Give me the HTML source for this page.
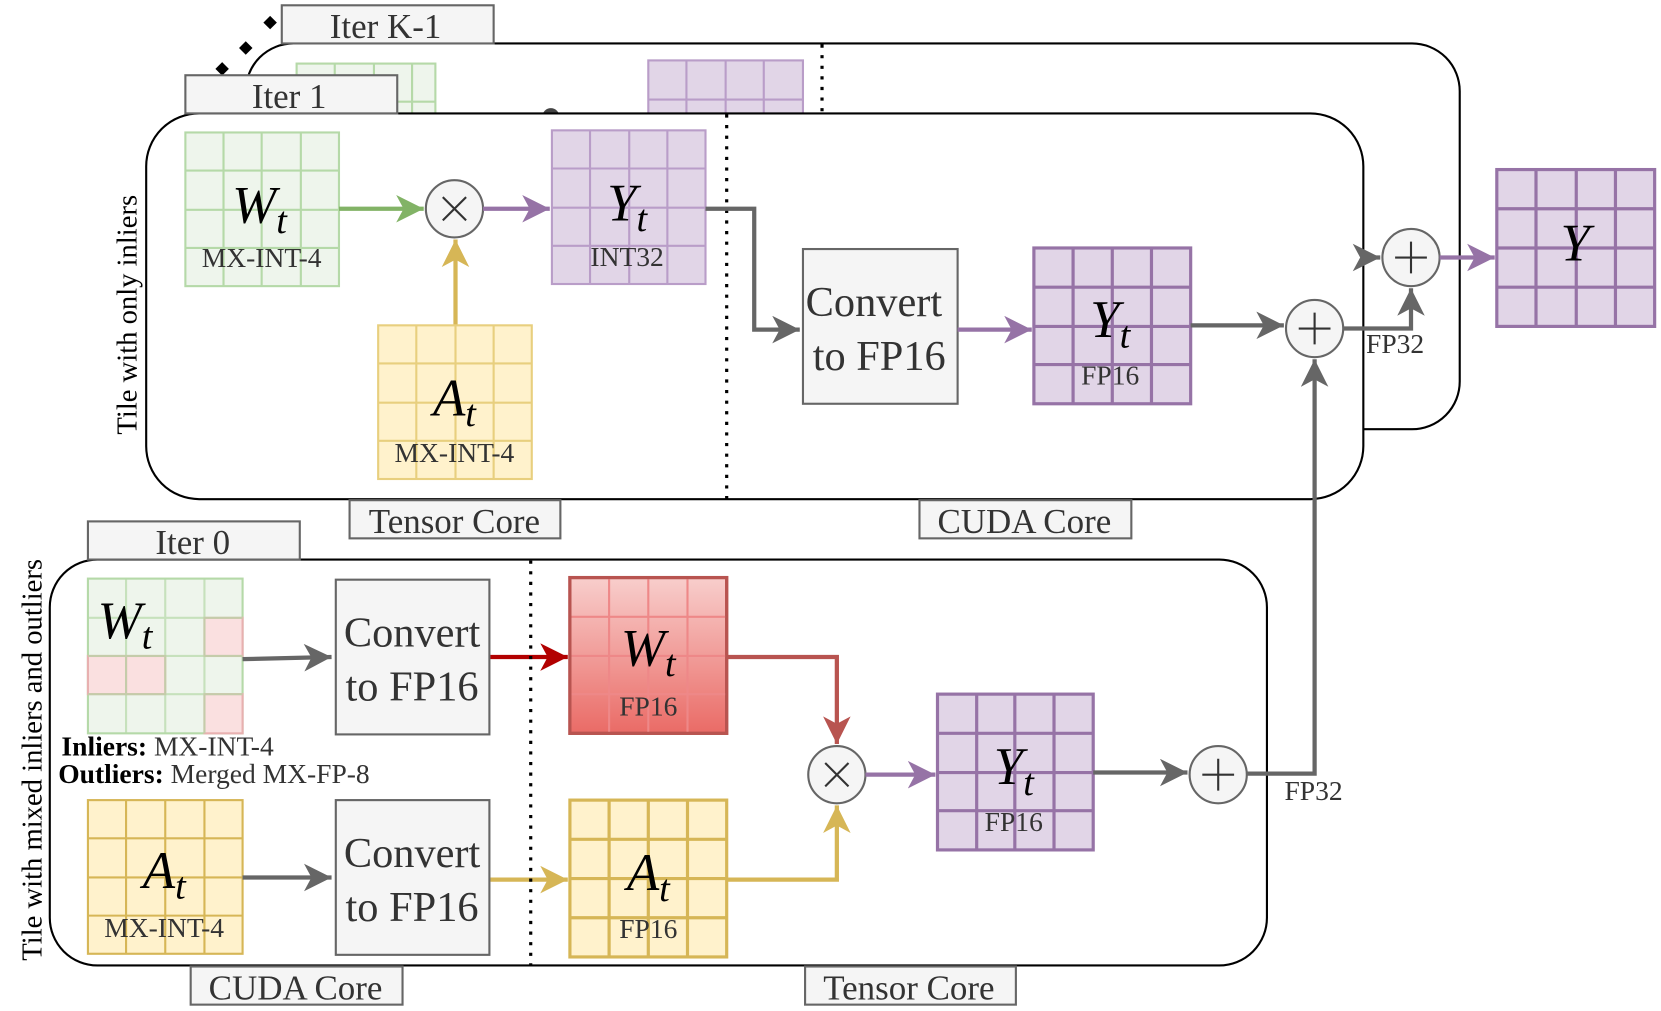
<!DOCTYPE html>
<html><head><meta charset="utf-8"><style>
html,body{margin:0;padding:0;background:#fff}
svg{display:block}
text{font-family:"Liberation Serif",serif}
.it{font-style:italic}
</style></head><body>
<svg width="1661" height="1011" viewBox="0 0 1568 954" preserveAspectRatio="none" xmlns="http://www.w3.org/2000/svg">
<defs>
<marker id="ag" markerUnits="userSpaceOnUse" markerWidth="30" markerHeight="30" refX="26" refY="13" orient="auto"><path d="M0,0 L26,13 L0,26 L7,13Z" fill="#82b366"/></marker>
<marker id="ap" markerUnits="userSpaceOnUse" markerWidth="30" markerHeight="30" refX="26" refY="13" orient="auto"><path d="M0,0 L26,13 L0,26 L7,13Z" fill="#9673a6"/></marker>
<marker id="ay" markerUnits="userSpaceOnUse" markerWidth="30" markerHeight="30" refX="26" refY="13" orient="auto"><path d="M0,0 L26,13 L0,26 L7,13Z" fill="#d6b656"/></marker>
<marker id="ak" markerUnits="userSpaceOnUse" markerWidth="30" markerHeight="30" refX="26" refY="13" orient="auto"><path d="M0,0 L26,13 L0,26 L7,13Z" fill="#666"/></marker>
<marker id="ar" markerUnits="userSpaceOnUse" markerWidth="30" markerHeight="30" refX="26" refY="13" orient="auto"><path d="M0,0 L26,13 L0,26 L7,13Z" fill="#b20000"/></marker>
<marker id="ar2" markerUnits="userSpaceOnUse" markerWidth="30" markerHeight="30" refX="26" refY="13" orient="auto"><path d="M0,0 L26,13 L0,26 L7,13Z" fill="#b85450"/></marker>
<linearGradient id="rg" x1="0" y1="0" x2="0" y2="1"><stop offset="0" stop-color="#f8cecc"/><stop offset="1" stop-color="#ea6b66"/></linearGradient>
</defs>

<!-- Back box Iter K-1 -->
<rect x="232" y="41" width="1146" height="364" rx="45" fill="#fff" stroke="#000" stroke-width="2"/>
<g fill="#000"><rect x="205" y="60" width="9" height="9" transform="rotate(45 209 65)"/><rect x="227" y="41" width="9" height="9" transform="rotate(45 232 46)"/><rect x="250" y="17" width="9" height="9" transform="rotate(45 255 22)"/></g>
<rect x="266" y="5" width="200" height="36" fill="#f5f5f5" stroke="#666" stroke-width="2"/>
<text x="364" y="36" font-size="33" text-anchor="middle" fill="#333">Iter K-1</text>
<g stroke="#b5d9a8" stroke-width="2" fill="#eef5ec"><rect x="280" y="60" width="131" height="60"/><path d="M316,60V120M353,60V120M389,60V120M280,96H411" fill="none"/></g>
<g stroke="#b99dc8" stroke-width="2" fill="#e1d5e7"><rect x="612" y="57" width="146" height="60"/><path d="M648,57V117M685,57V117M721,57V117M612,94H758" fill="none"/></g>
<line x1="776" y1="42" x2="776" y2="107" stroke="#000" stroke-width="3" stroke-dasharray="3,7"/>
<circle cx="520" cy="110" r="8" fill="#444"/>

<!-- Front box Iter 1 -->
<rect x="138" y="107" width="1149" height="364" rx="50" fill="#fff" stroke="#000" stroke-width="2"/>
<rect x="175" y="71" width="200" height="36" fill="#f5f5f5" stroke="#666" stroke-width="2"/>
<text x="273" y="102" font-size="33" text-anchor="middle" fill="#333">Iter 1</text>
<text transform="translate(129,297) rotate(-90)" font-size="27" text-anchor="middle" fill="#000">Tile with only inliers</text>

<g stroke="#b5d9a8" stroke-width="2" fill="#eef5ec"><rect x="175" y="125" width="145" height="145"/><path d="M211,125V270M247,125V270M284,125V270M175,161H320M175,198H320M175,234H320" fill="none"/></g>
<text x="245" y="210" font-size="50" class="it" text-anchor="middle">W<tspan font-size="36" dy="10">t</tspan></text>
<text x="247" y="252" font-size="26" text-anchor="middle" fill="#333">MX-INT-4</text>

<line x1="320" y1="197" x2="400" y2="197" stroke="#82b366" stroke-width="4" marker-end="url(#ag)"/>
<circle cx="429" cy="197" r="27" fill="#f5f5f5" stroke="#666" stroke-width="2"/>
<path d="M418,186L440,208M440,186L418,208" stroke="#333" stroke-width="2"/>
<line x1="456" y1="197" x2="519" y2="197" stroke="#9673a6" stroke-width="4" marker-end="url(#ap)"/>

<g stroke="#b99dc8" stroke-width="2" fill="#e1d5e7"><rect x="521" y="123" width="145" height="145"/><path d="M557,123V268M594,123V268M630,123V268M521,159H666M521,196H666M521,232H666" fill="none"/></g>
<text x="592" y="208" font-size="50" class="it" text-anchor="middle">Y<tspan font-size="36" dy="10">t</tspan></text>
<text x="592" y="251" font-size="26" text-anchor="middle" fill="#333">INT32</text>

<line x1="430" y1="307" x2="430" y2="226" stroke="#d6b656" stroke-width="4" marker-end="url(#ay)"/>
<g stroke="#e8cf7e" stroke-width="2" fill="#fff2cc"><rect x="357" y="307" width="145" height="145"/><path d="M393,307V452M430,307V452M466,307V452M357,343H502M357,380H502M357,416H502" fill="none"/></g>
<text x="429" y="392" font-size="50" class="it" text-anchor="middle">A<tspan font-size="36" dy="10">t</tspan></text>
<text x="429" y="436" font-size="26" text-anchor="middle" fill="#333">MX-INT-4</text>

<line x1="686" y1="108" x2="686" y2="471" stroke="#000" stroke-width="3" stroke-dasharray="3,7"/>
<path d="M666,197H712V311H755" fill="none" stroke="#666" stroke-width="4" marker-end="url(#ak)"/>
<rect x="758" y="235" width="146" height="146" fill="#f5f5f5" stroke="#666" stroke-width="2"/>
<text x="825" y="298" font-size="40" text-anchor="middle" fill="#333">Convert</text>
<text x="830" y="349" font-size="40" text-anchor="middle" fill="#333">to FP16</text>
<line x1="904" y1="311" x2="974" y2="311" stroke="#9673a6" stroke-width="4" marker-end="url(#ap)"/>

<g stroke="#9673a6" stroke-width="3" fill="#e1d5e7"><rect x="976" y="234" width="148" height="147"/><path d="M1013,234V381M1050,234V381M1087,234V381M976,271H1124M976,308H1124M976,344H1124" fill="none"/></g>
<text x="1048" y="318" font-size="50" class="it" text-anchor="middle">Y<tspan font-size="36" dy="10">t</tspan></text>
<text x="1048" y="363" font-size="26" text-anchor="middle" fill="#333">FP16</text>
<line x1="1124" y1="307" x2="1212" y2="307" stroke="#666" stroke-width="4" marker-end="url(#ak)"/>
<circle cx="1241" cy="310" r="27" fill="#f5f5f5" stroke="#666" stroke-width="2"/>
<path d="M1226,310H1256M1241,295V325" stroke="#333" stroke-width="2"/>
<path d="M1268,310H1332V272" fill="none" stroke="#666" stroke-width="4" marker-end="url(#ak)"/>
<text x="1317" y="333" font-size="26" text-anchor="middle" fill="#333">FP32</text>
<line x1="1287" y1="243" x2="1303" y2="243" stroke="#666" stroke-width="4" marker-end="url(#ak)"/>
<circle cx="1332" cy="243" r="27" fill="#f5f5f5" stroke="#666" stroke-width="2"/>
<path d="M1317,243H1347M1332,228V258" stroke="#333" stroke-width="2"/>
<line x1="1359" y1="243" x2="1411" y2="243" stroke="#9673a6" stroke-width="4" marker-end="url(#ap)"/>
<g stroke="#9673a6" stroke-width="3" fill="#e1d5e7"><rect x="1413" y="160" width="149" height="148"/><path d="M1450,160V308M1488,160V308M1525,160V308M1413,197H1562M1413,234H1562M1413,271H1562" fill="none"/></g>
<text x="1487" y="246" font-size="50" class="it" text-anchor="middle">Y</text>

<rect x="330" y="472" width="199" height="36" fill="#f5f5f5" stroke="#666" stroke-width="2"/>
<text x="429" y="503" font-size="33" text-anchor="middle" fill="#333">Tensor Core</text>
<rect x="868" y="472" width="200" height="36" fill="#f5f5f5" stroke="#666" stroke-width="2"/>
<text x="967" y="503" font-size="33" text-anchor="middle" fill="#333">CUDA Core</text>

<!-- Bottom box Iter 0 -->
<rect x="47" y="528" width="1149" height="383" rx="45" fill="#fff" stroke="#000" stroke-width="2"/>
<rect x="83" y="492" width="200" height="36" fill="#f5f5f5" stroke="#666" stroke-width="2"/>
<text x="182" y="523" font-size="33" text-anchor="middle" fill="#333">Iter 0</text>
<text transform="translate(39,717) rotate(-90)" font-size="27" text-anchor="middle" fill="#000">Tile with mixed inliers and outliers</text>

<g stroke="#b5d9a8" stroke-width="2" fill="#eef5ec"><rect x="83" y="546" width="146" height="146"/>
<rect x="193" y="583" width="36" height="36" fill="#fae0e0" stroke="#e8b0b0"/><rect x="83" y="619" width="36" height="36" fill="#fae0e0" stroke="#e8b0b0"/><rect x="119" y="619" width="37" height="36" fill="#fae0e0" stroke="#e8b0b0"/><rect x="193" y="655" width="36" height="37" fill="#fae0e0" stroke="#e8b0b0"/>
<path d="M119,546V692M156,546V692M193,546V692M83,583H229M83,619H229M83,655H229" fill="none" stroke-opacity="0.7"/></g>
<text x="118" y="602" font-size="50" class="it" text-anchor="middle">W<tspan font-size="36" dy="10">t</tspan></text>
<text x="58" y="713" font-size="26" fill="#333"><tspan font-weight="bold" fill="#000">Inliers:</tspan> MX-INT-4</text>
<text x="55" y="739" font-size="26" fill="#333"><tspan font-weight="bold" fill="#000">Outliers:</tspan> Merged MX-FP-8</text>
<line x1="229" y1="622" x2="313" y2="620" stroke="#666" stroke-width="4" marker-end="url(#ak)"/>
<rect x="317" y="547" width="145" height="146" fill="#f5f5f5" stroke="#666" stroke-width="2"/>
<text x="389" y="610" font-size="40" text-anchor="middle" fill="#333">Convert</text>
<text x="389" y="661" font-size="40" text-anchor="middle" fill="#333">to FP16</text>
<line x1="463" y1="620" x2="536" y2="620" stroke="#b20000" stroke-width="4" marker-end="url(#ar)"/>
<g stroke="#b85450" stroke-width="3" fill="url(#rg)"><rect x="538" y="545" width="148" height="147"/><path d="M575,545V692M612,545V692M649,545V692M538,582H686M538,619H686M538,655H686" fill="none" stroke="#e88" stroke-width="2"/></g>
<rect x="538" y="545" width="148" height="147" fill="none" stroke="#b85450" stroke-width="3"/>
<text x="612" y="628" font-size="50" class="it" text-anchor="middle">W<tspan font-size="36" dy="10">t</tspan></text>
<text x="612" y="675" font-size="26" text-anchor="middle" fill="#333">FP16</text>
<path d="M686,620H790V702" fill="none" stroke="#b85450" stroke-width="4" marker-end="url(#ar2)"/>

<g stroke="#d6b656" stroke-width="2" fill="#fff2cc"><rect x="83" y="755" width="146" height="145"/><path d="M119,755V900M156,755V900M193,755V900M83,791H229M83,828H229M83,864H229" fill="none"/></g>
<text x="155" y="838" font-size="50" class="it" text-anchor="middle">A<tspan font-size="36" dy="10">t</tspan></text>
<text x="155" y="884" font-size="26" text-anchor="middle" fill="#333">MX-INT-4</text>
<line x1="229" y1="828" x2="313" y2="828" stroke="#666" stroke-width="4" marker-end="url(#ak)"/>
<rect x="317" y="755" width="145" height="146" fill="#f5f5f5" stroke="#666" stroke-width="2"/>
<text x="389" y="818" font-size="40" text-anchor="middle" fill="#333">Convert</text>
<text x="389" y="869" font-size="40" text-anchor="middle" fill="#333">to FP16</text>
<line x1="463" y1="830" x2="536" y2="830" stroke="#d6b656" stroke-width="4" marker-end="url(#ay)"/>
<g stroke="#d6b656" stroke-width="3" fill="#fff2cc"><rect x="538" y="755" width="148" height="148"/><path d="M575,755V903M612,755V903M649,755V903M538,792H686M538,829H686M538,866H686" fill="none"/></g>
<text x="612" y="840" font-size="50" class="it" text-anchor="middle">A<tspan font-size="36" dy="10">t</tspan></text>
<text x="612" y="885" font-size="26" text-anchor="middle" fill="#333">FP16</text>
<path d="M686,830H790V760" fill="none" stroke="#d6b656" stroke-width="4" marker-end="url(#ay)"/>

<circle cx="790" cy="731" r="27" fill="#f5f5f5" stroke="#666" stroke-width="2"/>
<path d="M779,720L801,742M801,720L779,742" stroke="#333" stroke-width="2"/>
<line x1="817" y1="731" x2="883" y2="731" stroke="#9673a6" stroke-width="4" marker-end="url(#ap)"/>
<g stroke="#9673a6" stroke-width="3" fill="#e1d5e7"><rect x="885" y="655" width="147" height="147"/><path d="M922,655V802M958,655V802M995,655V802M885,692H1032M885,729H1032M885,765H1032" fill="none"/></g>
<text x="957" y="740" font-size="50" class="it" text-anchor="middle">Y<tspan font-size="36" dy="10">t</tspan></text>
<text x="957" y="784" font-size="26" text-anchor="middle" fill="#333">FP16</text>
<line x1="1032" y1="729" x2="1121" y2="729" stroke="#666" stroke-width="4" marker-end="url(#ak)"/>
<circle cx="1150" cy="731" r="27" fill="#f5f5f5" stroke="#666" stroke-width="2"/>
<path d="M1135,731H1165M1150,716V746" stroke="#333" stroke-width="2"/>
<path d="M1177,730H1241V339" fill="none" stroke="#666" stroke-width="4" marker-end="url(#ak)"/>
<text x="1240" y="755" font-size="26" text-anchor="middle" fill="#333">FP32</text>

<line x1="501" y1="529" x2="501" y2="911" stroke="#000" stroke-width="3" stroke-dasharray="3,7"/>
<rect x="180" y="912" width="200" height="36" fill="#f5f5f5" stroke="#666" stroke-width="2"/>
<text x="279" y="943" font-size="33" text-anchor="middle" fill="#333">CUDA Core</text>
<rect x="760" y="912" width="199" height="36" fill="#f5f5f5" stroke="#666" stroke-width="2"/>
<text x="858" y="943" font-size="33" text-anchor="middle" fill="#333">Tensor Core</text>
</svg>
</body></html>
